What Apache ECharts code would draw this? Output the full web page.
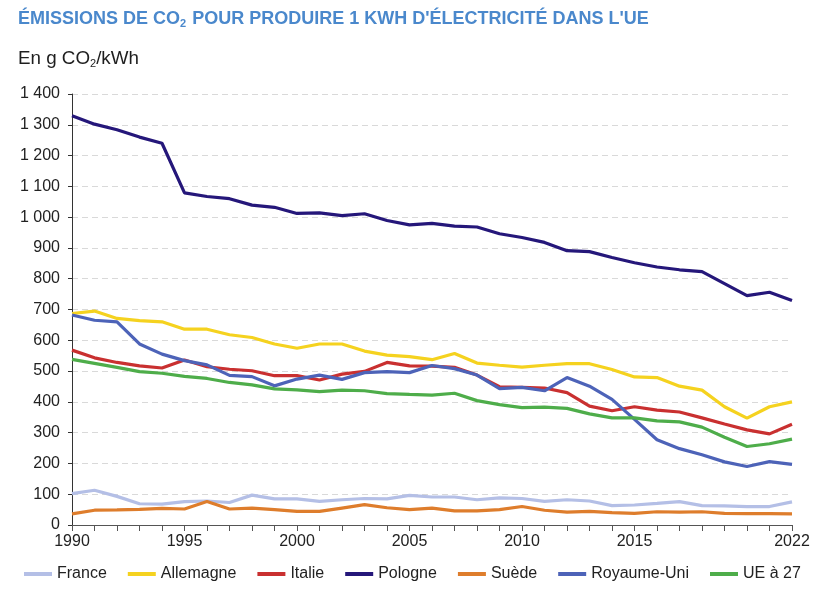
<!DOCTYPE html>
<html>
<head>
<meta charset="utf-8">
<script src="https://cdn.jsdelivr.net/npm/echarts@6/dist/echarts.min.js"></script>
<style>
  html, body { margin: 0; padding: 0; background: #fff; }
  #chart { width: 830px; height: 595px; }
</style>
</head>
<body>
<div id="chart"></div>
<script>
// années 1990 -> 2022
var years = [];
for (var y = 1990; y <= 2022; y++) years.push(String(y));
var labelYears = ['1990', '1995', '2000', '2005', '2010', '2015', '2022'];

// valeurs (g CO2/kWh)
var france = [102, 113, 93, 69, 68, 76, 78, 73, 97, 85, 85, 77, 82, 86, 85, 96,
  91, 91, 82, 88, 86, 77, 82, 78, 63, 65, 70, 76, 63, 62, 60, 60, 75];
var allemagne = [687, 695, 671, 664, 660, 636, 636, 618, 609, 588, 574, 588, 588, 565, 552, 547,
  537, 557, 526, 519, 513, 519, 524, 524, 505, 481, 479, 451, 438, 384, 347, 384, 400];
var italie = [568, 543, 528, 517, 510, 536, 514, 506, 501, 485, 485, 471, 490, 499, 528, 517,
  516, 512, 487, 449, 447, 445, 430, 386, 371, 384, 373, 367, 348, 328, 309, 296, 327];
var pologne = [1329, 1302, 1284, 1260, 1240, 1079, 1067, 1060, 1039, 1032, 1012, 1014, 1005, 1011, 989, 975,
  980, 971, 968, 946, 934, 918, 891, 888, 869, 852, 838, 829, 823, 784, 745, 756, 729];
var suede = [36, 48, 49, 51, 54, 52, 76, 52, 55, 50, 44, 44, 55, 66, 56, 50,
  55, 46, 46, 50, 60, 48, 42, 44, 40, 38, 43, 42, 43, 38, 37, 37, 36];
var royaumeUni = [682, 665, 660, 588, 555, 534, 520, 486, 482, 452, 474, 487, 473, 495, 498, 495,
  518, 508, 487, 443, 447, 436, 479, 451, 408, 343, 277, 248, 228, 205, 190, 206, 197];
var ue27 = [538, 525, 512, 498, 493, 483, 476, 463, 455, 442, 439, 433, 438, 436, 427, 424,
  422, 428, 404, 391, 381, 383, 379, 361, 348, 348, 338, 335, 318, 285, 255, 264, 279];

var seriesNames = ['France', 'Allemagne', 'Italie', 'Pologne', 'Suède', 'Royaume-Uni', 'UE à 27'];
var seriesData = [france, allemagne, italie, pologne, suede, royaumeUni, ue27];
var colors = ['#b4bfe6', '#f5d21f', '#c93030', '#25177a', '#de7d2c', '#4d63b8', '#4ead4a'];

var FONT = '"Liberation Sans", Arial, sans-serif';

function fmtThousands (v) {
  return String(v).replace(/\B(?=(\d{3})+(?!\d))/g, ' ');
}

var series = seriesNames.map(function (name, i) {
  return {
    name: name,
    type: 'line',
    data: seriesData[i],
    symbol: 'none',
    z: name === 'Pologne' ? 3 : 2,
    lineStyle: { width: 3.2, color: colors[i] },
    itemStyle: { color: colors[i] }
  };
});

var option = {
  animation: false,
  backgroundColor: '#fff',
  title: [{
    text: '{a|ÉMISSIONS DE CO}{s|2}{a| POUR PRODUIRE 1 KWH D\'ÉLECTRICITÉ DANS L\'UE}',
    left: 18,
    top: 9,
    padding: 0,
    textStyle: {
      rich: {
        a: { fontFamily: FONT, fontWeight: 'bold', fontSize: 18, color: '#4a88cc', lineHeight: 20 },
        s: { fontFamily: FONT, fontWeight: 'bold', fontSize: 11, color: '#4a88cc', lineHeight: 20, padding: [10, 1, 0, 0] }
      }
    }
  }, {
    text: '{a|En g CO}{s|2}{a|/kWh}',
    left: 18,
    top: 48,
    padding: 0,
    textStyle: {
      rich: {
        a: { fontFamily: FONT, fontWeight: 'normal', fontSize: 18.8, color: '#1e1e1e', lineHeight: 22 },
        s: { fontFamily: FONT, fontWeight: 'normal', fontSize: 11, color: '#1e1e1e', lineHeight: 22, padding: [9, 0, 0, 0] }
      }
    }
  }],
  legend: {
    data: seriesNames,
    left: 19,
    top: 561,
    icon: 'rect',
    itemWidth: 28,
    itemHeight: 4,
    itemGap: 21,
    textStyle: { fontFamily: FONT, fontSize: 16, color: '#222' }
  },
  grid: { left: 72, right: 38, top: 94, bottom: 70, containLabel: false },
  xAxis: {
    type: 'category',
    data: years,
    boundaryGap: false,
    axisLine: { lineStyle: { color: '#555', width: 1 } },
    axisTick: { show: true, length: 6, interval: 0, lineStyle: { color: '#555' } },
    axisLabel: {
      interval: 0,
      fontFamily: FONT,
      fontSize: 16,
      color: '#222',
      margin: 9,
      formatter: function (v) { return labelYears.indexOf(v) >= 0 ? v : ''; }
    },
    splitLine: { show: false }
  },
  yAxis: {
    type: 'value',
    min: 0,
    max: 1400,
    interval: 100,
    axisLine: { show: true, lineStyle: { color: '#333', width: 1 } },
    axisTick: { show: true, length: 4, lineStyle: { color: '#333' } },
    axisLabel: {
      fontFamily: FONT,
      fontSize: 16,
      color: '#222',
      margin: 12,
      formatter: fmtThousands
    },
    splitLine: { show: true, lineStyle: { color: '#d9d9d9', width: 1, type: [6, 4] } }
  },
  series: series
};

var myChart = echarts.init(document.getElementById('chart'));
myChart.setOption(option);
</script>
</body>
</html>
